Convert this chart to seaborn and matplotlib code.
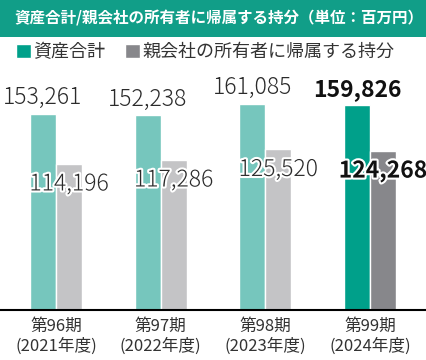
import pandas as pd
import seaborn as sns
import matplotlib.pyplot as plt
import matplotlib.patheffects as pe
from matplotlib.patches import Rectangle

# data (unit: million yen)
periods = ['第96期\n(2021年度)', '第97期\n(2022年度)', '第98期\n(2023年度)', '第99期\n(2024年度)']
total_assets = [153261, 152238, 161085, 159826]
owners_equity = [114196, 117286, 125520, 124268]
series_names = ['資産合計', '親会社の所有者に帰属する持分']

title = '資産合計/親会社の所有者に帰属する持分（単位：百万円）'

dark_teal, dark_gray = '#00a08a', '#87878b'
light_teal, light_gray = '#76c6bd', '#c4c4c6'

sns.set_style('white')
plt.rcParams['font.family'] = ['Noto Sans CJK JP', 'DejaVu Sans']

df = pd.DataFrame({
    'period': periods * 2,
    'value': total_assets + owners_equity,
    'series': [series_names[0]] * 4 + [series_names[1]] * 4,
})

fig = plt.figure(figsize=(4.26, 3.6), dpi=100)
ax = fig.add_axes([0, 50 / 360, 1, 240 / 360])

sns.barplot(data=df, x='period', y='value', hue='series', palette=[dark_teal, dark_gray],
            width=0.497, gap=0, saturation=1, ax=ax)

# earlier years are drawn in the lighter shades
for i, bar in enumerate(ax.containers[0]):
    if i < 3:
        bar.set_facecolor(light_teal)
for i, bar in enumerate(ax.containers[1]):
    if i < 3:
        bar.set_facecolor(light_gray)

# value labels
for i, bar in enumerate(ax.containers[0]):
    last = i == 3
    ax.annotate(f'{total_assets[i]:,}', (bar.get_x() + bar.get_width() / 2, bar.get_height()),
                xytext=(0, 11.5), textcoords='offset points', ha='center', va='center',
                fontsize=16.5, fontweight='bold' if last else 'light',
                color='#111111' if last else '#2b2b2b')
for i, bar in enumerate(ax.containers[1]):
    last = i == 3
    ax.annotate(f'{owners_equity[i]:,}', (bar.get_x() + bar.get_width() / 2, bar.get_height()),
                xytext=(0, -14.5), textcoords='offset points', ha='center', va='center',
                fontsize=16.5, fontweight='bold' if last else 'light',
                color='#111111' if last else '#2b2b2b',
                path_effects=[pe.withStroke(linewidth=3, foreground='white')])

ax.set_xlim(-0.535, 3.535)
ax.set_ylim(0, 187500)
ax.set_yticks([])
ax.set_xlabel('')
ax.set_ylabel('')
ax.tick_params(axis='x', length=0, pad=6, labelsize=12, labelcolor='#333333')
for s in ['top', 'left', 'right']:
    ax.spines[s].set_visible(False)
ax.spines['bottom'].set_color('black')
ax.spines['bottom'].set_linewidth(1.5)

# legend at the top, with square markers
handles, labels = ax.get_legend_handles_labels()
ax.get_legend().remove()
fig.legend(handles, labels, loc='center left', bbox_to_anchor=(16 / 426, 1 - 52 / 360),
           ncol=2, frameon=False, fontsize=13, handlelength=0.85, handleheight=0.85,
           handletextpad=0.1, columnspacing=1.1, borderaxespad=0, borderpad=0,
           labelcolor='#333333')

# title banner
fig.patches.append(Rectangle((0, 1 - 37 / 360), 1, 37 / 360, transform=fig.transFigure,
                             facecolor='#119e88', edgecolor='none', zorder=0))
fig.text(14 / 426, 1 - 18.5 / 360, title, color='white', fontsize=11.2, fontweight='bold',
         ha='left', va='center')

fig.savefig('out.png', dpi=100)
